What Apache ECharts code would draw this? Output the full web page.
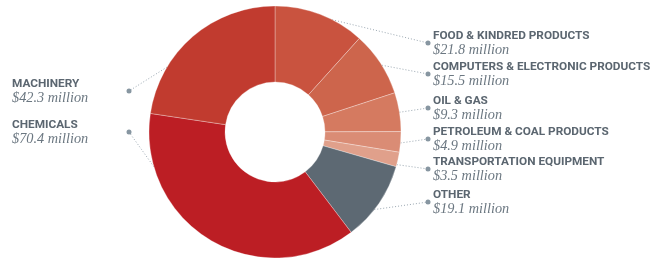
<!DOCTYPE html>
<html>
<head>
<meta charset="utf-8">
<script src="https://cdn.jsdelivr.net/npm/echarts@6/dist/echarts.min.js"></script>
<style>
  html, body { margin: 0; padding: 0; background: #fff; }
  #main { width: 662px; height: 258px; }
</style>
</head>
<body>
<div id="main"></div>
<script>
// categories, clockwise from 12 o'clock
const categories = [
  'FOOD & KINDRED PRODUCTS',
  'COMPUTERS & ELECTRONIC PRODUCTS',
  'OIL & GAS',
  'PETROLEUM & COAL PRODUCTS',
  'TRANSPORTATION EQUIPMENT',
  'OTHER',
  'CHEMICALS',
  'MACHINERY'
]
// $ million
const values = [21.8, 15.5, 9.3, 4.9, 3.5, 19.1, 70.4, 42.3]
const colors = ['#c9533f', '#cd654c', '#d57a60', '#da8c75', '#e0a08b', '#5d6973', '#bc1e24', '#c13b2f']

// layout of the annotations
const CX = 275
const CY = 132
const R_IN = 50
const R_OUT = 126
const leaderAngle = [27, 58, 81, 95, 105, 128, 254, 301] // where the dotted line leaves the ring
const dotX = [428, 428, 428, 428, 428, 428, 129, 129]
const dotY = [43, 74, 108, 139, 169, 202, 132, 91]
const textX = [433, 433, 433, 433, 433, 433, 12, 12]

const chart = echarts.init(document.getElementById('main'))

const pieData = categories.map((name, i) => ({
  name: name,
  value: values[i],
  itemStyle: { color: colors[i] }
}))

const baseSeries = {
  type: 'pie',
  center: [CX, CY],
  radius: [R_IN, R_OUT],
  startAngle: 90,
  clockwise: true,
  avoidLabelOverlap: false,
  animation: false,
  emphasis: { disabled: true }
}

chart.setOption({
  backgroundColor: '#fff',
  series: [
    {
      ...baseSeries,
      data: pieData,
      itemStyle: { borderColor: 'rgba(255,255,255,0.5)', borderWidth: 0.6 },
      label: {
        show: true,
        position: 'outside',
        formatter: '{d|}',
        rich: {
          d: { width: 5, height: 5, borderRadius: 2.5, backgroundColor: '#8796a1' }
        }
      },
      labelLine: {
        show: true,
        lineStyle: { color: '#9aa7b1', width: 1, type: [1, 2] }
      },
      labelLayout: function (p) {
        const i = p.dataIndex
        const a = leaderAngle[i] * Math.PI / 180
        const sx = CX + R_OUT * Math.sin(a)
        const sy = CY - R_OUT * Math.cos(a)
        const ex = dotX[i]
        const ey = dotY[i]
        return {
          x: ex,
          y: ey,
          align: 'center',
          verticalAlign: 'middle',
          labelLinePoints: [[sx, sy], [(sx + ex) / 2, (sy + ey) / 2], [ex, ey]]
        }
      }
    },
    {
      ...baseSeries,
      silent: true,
      z: 3,
      data: categories.map((name, i) => ({ name: name, value: values[i] })),
      itemStyle: { color: 'rgba(0,0,0,0)' },
      label: {
        show: true,
        position: 'outside',
        formatter: p => '{n|' + p.name + '}\n{v|$' + p.value.toFixed(1) + ' million}',
        rich: {
          n: {
            fontFamily: 'Roboto, sans-serif',
            fontWeight: 'bold',
            fontSize: 11.8,
            color: '#5b6670',
            lineHeight: 14
          },
          v: {
            fontFamily: '"Liberation Serif", serif',
            fontStyle: 'italic',
            fontSize: 14.3,
            color: '#6b7781',
            lineHeight: 14
          }
        }
      },
      labelLine: { show: false },
      labelLayout: function (p) {
        const i = p.dataIndex
        return {
          x: textX[i],
          y: dotY[i],
          align: 'left',
          verticalAlign: 'middle'
        }
      }
    }
  ]
})
</script>
</body>
</html>
